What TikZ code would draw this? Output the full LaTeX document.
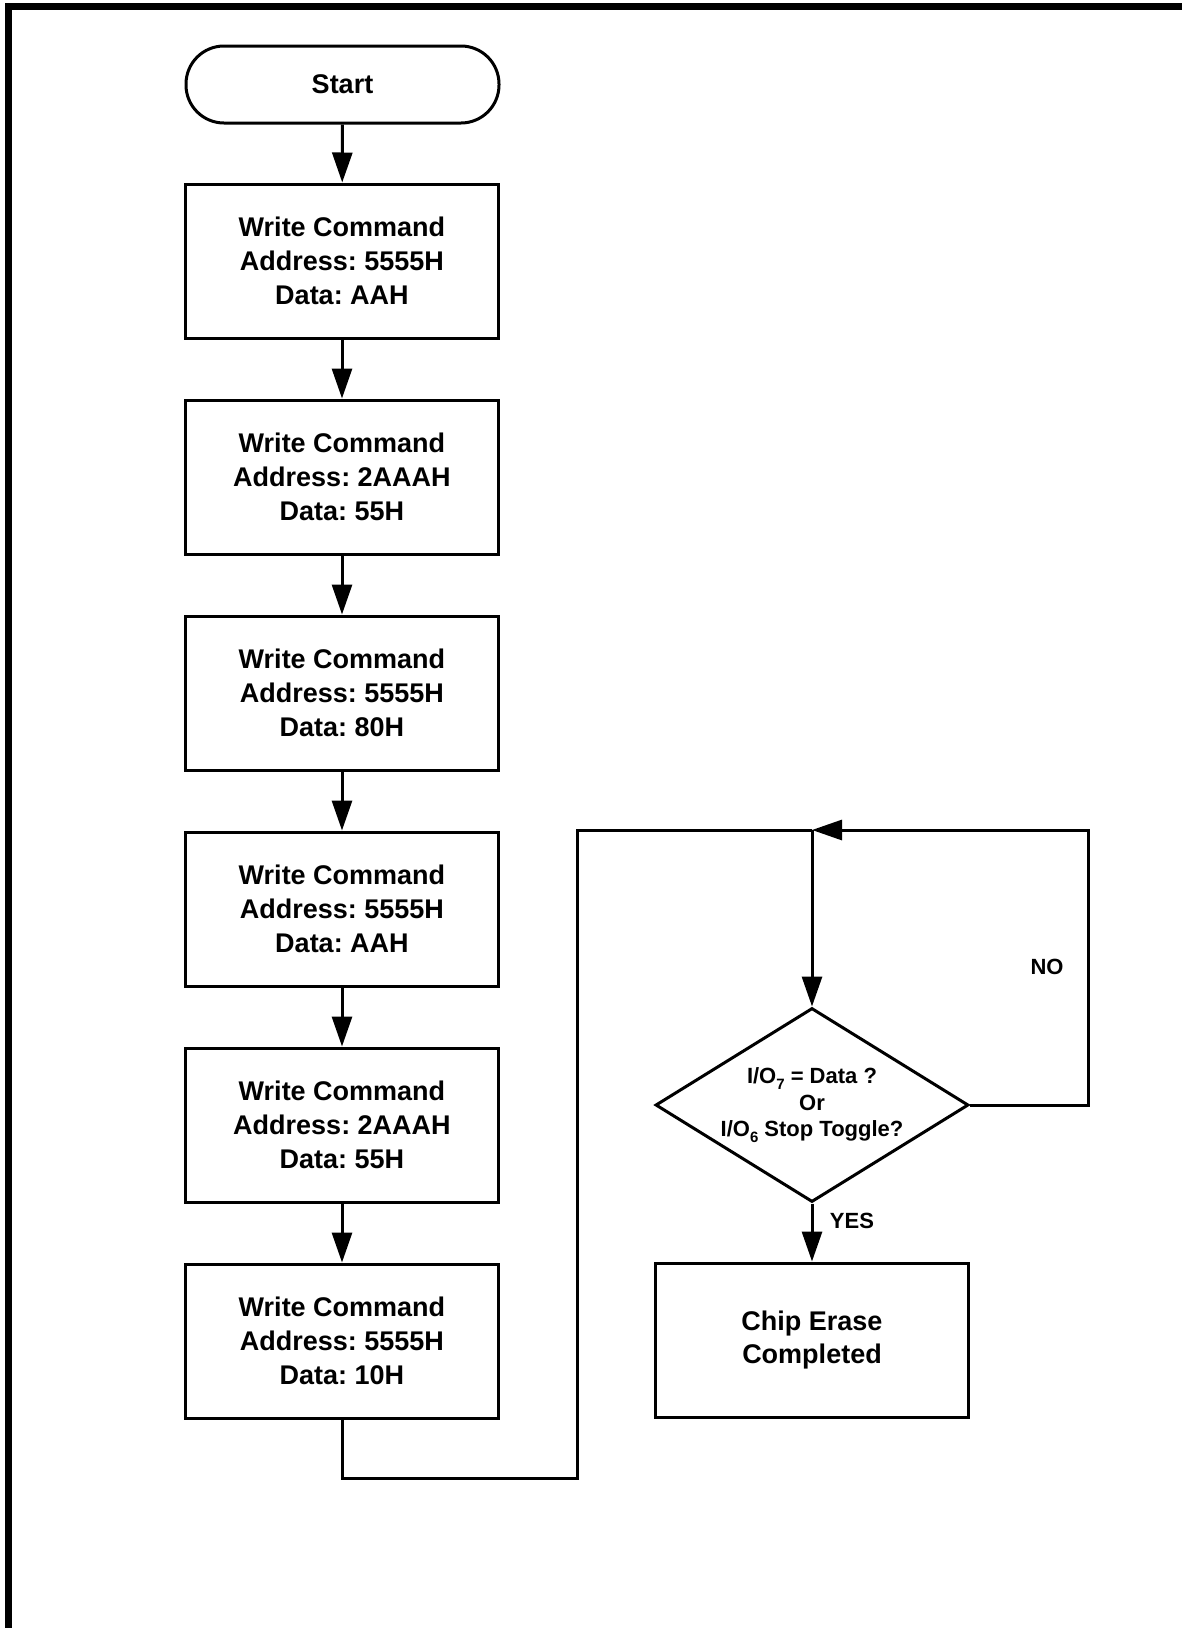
\documentclass[tikz,border=0pt]{standalone}
\usepackage{fontspec}
\setmainfont{Liberation Sans}
\usetikzlibrary{arrows.meta,shapes.geometric}
\newcommand\iosub[1]{\raisebox{-0.5ex}{\fontsize{15}{15}\selectfont #1}}
\frenchspacing
\begin{document}
\begin{tikzpicture}[x=1pt,y=-1pt,
  every node/.style={font=\bfseries\fontsize{27}{33.7}\selectfont, align=center, inner sep=0pt},
  proc/.style={draw, line width=3pt, minimum width=313pt, minimum height=154pt},
  term/.style={draw, line width=3pt, rounded corners=38pt, minimum width=313pt, minimum height=77pt},
  dec/.style={draw, line width=3pt, diamond, aspect=1.607, minimum width=313pt, minimum height=194pt, font=\bfseries\fontsize{22}{26.5}\selectfont},
  link/.style={line width=3pt},
  arr/.style={link, -{Triangle[length=30pt,width=20pt]}},
  lab/.style={font=\bfseries\fontsize{22}{26}\selectfont}
]
\useasboundingbox (0,0) rectangle (1182,1628);
\draw[line width=6.5pt] (1190,6.3) -- (8.3,6.3) -- (8.3,1640);

\node[term] (start) at (342.5,84.5) {Start};
\node[proc] (b1) at (342,261) {Write Command\\Address: 5555H\\Data: AAH};
\node[proc] (b2) at (342,477) {Write Command\\Address: 2AAAH\\Data: 55H};
\node[proc] (b3) at (342,693) {Write Command\\Address: 5555H\\Data: 80H};
\node[proc] (b4) at (342,909) {Write Command\\Address: 5555H\\Data: AAH};
\node[proc] (b5) at (342,1125) {Write Command\\Address: 2AAAH\\Data: 55H};
\node[proc] (b6) at (342,1341) {Write Command\\Address: 5555H\\Data: 10H};
\node[dec] (d) at (812,1105) {I/O\iosub{7} = Data ?\\Or\\I/O\iosub{6} Stop Toggle?};
\node[proc] (chip) at (812,1340) {Chip Erase\\Completed};

\coordinate (j) at (812,830);
\coordinate (c1) at (342,1478);
\coordinate (c2) at (577,1478);
\coordinate (c3) at (577,830);
\coordinate (n1) at (1088,1105);
\coordinate (n2) at (1088,830);

\draw[arr] (start) -- (b1);
\draw[arr] (b1) -- (b2);
\draw[arr] (b2) -- (b3);
\draw[arr] (b3) -- (b4);
\draw[arr] (b4) -- (b5);
\draw[arr] (b5) -- (b6);
\draw[link] (b6.south) -- (c1) -- (c2) -- (c3) -- (j);
\draw[arr] (j) -- (d.north);
\draw[arr] (d.east) -- (n1) -- (n2) -- (j);
\draw[arr] (d.south) -- (chip.north);

\node[lab] (no) at (1047,967) {NO};
\node[lab] (yes) at (852,1221) {YES};
\end{tikzpicture}
\end{document}
